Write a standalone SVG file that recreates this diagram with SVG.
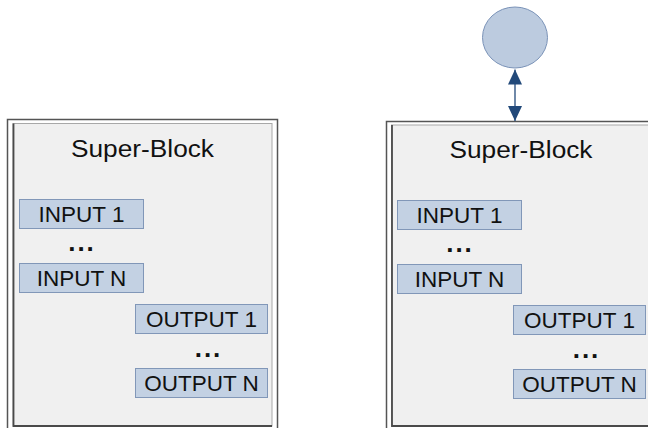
<svg xmlns="http://www.w3.org/2000/svg" width="648" height="428" viewBox="0 0 648 428">
  <style>
    .frame-outer { fill: #ffffff; stroke: #555555; stroke-width: 1.5; }
    .frame-inner { fill: #f0f0f0; stroke: #a8a8a8; stroke-width: 1; }
    .frame-shade { fill: none; stroke: #4a4a4a; stroke-width: 1.8; }
    .port { fill: #c3d1e3; stroke: #8197b8; stroke-width: 1; }
    .title { font-family: "Liberation Sans", Arial, sans-serif; font-size: 23px; fill: #111111; text-anchor: middle; }
    .label { font-family: "Liberation Sans", Arial, sans-serif; font-size: 22.5px; fill: #111111; text-anchor: middle; }
    .dots { font-family: "Liberation Sans", Arial, sans-serif; font-size: 26px; font-weight: bold; fill: #111111; text-anchor: middle; letter-spacing: 2px; }
    .link { stroke: #22497a; stroke-width: 1.3; fill: none; }
  </style>
  <defs>
    <marker id="head" viewBox="0 0 15 14" refX="15" refY="7" markerWidth="15" markerHeight="14" markerUnits="userSpaceOnUse" orient="auto-start-reverse">
      <path d="M0,0 L15,7 L0,14 Z" fill="#22497a"/>
    </marker>
    <g id="block-body">
      <rect class="frame-outer" x="7.5" y="119.5" width="270" height="320"/>
      <rect class="frame-inner" x="13" y="123.5" width="259" height="302.5"/>
      <path class="frame-shade" d="M13.5,123.5 V426 H272"/>
    </g>
  </defs>

  <!-- left super-block -->
  <g id="superblock-left">
    <use href="#block-body"/>
    <text class="title" x="142.5" y="157" textLength="143" lengthAdjust="spacingAndGlyphs">Super-Block</text>
  </g>
  <g id="left-input-1">
    <rect class="port" x="19.5" y="199.5" width="124" height="29"/>
    <text class="label" x="81.5" y="221.5">INPUT 1</text>
  </g>
  <text class="dots" x="82" y="251">...</text>
  <g id="left-input-n">
    <rect class="port" x="19.5" y="263.5" width="124" height="29"/>
    <text class="label" x="81.5" y="285.5">INPUT N</text>
  </g>
  <g id="left-output-1">
    <rect class="port" x="135.5" y="304.5" width="132" height="29"/>
    <text class="label" x="201.5" y="326.5">OUTPUT 1</text>
  </g>
  <text class="dots" x="208.5" y="357">...</text>
  <g id="left-output-n">
    <rect class="port" x="135.5" y="368.5" width="132" height="29"/>
    <text class="label" x="201.5" y="390.5">OUTPUT N</text>
  </g>

  <!-- right super-block with attached node -->
  <g id="superblock-right">
    <rect class="frame-outer" x="386.5" y="121.5" width="275" height="320"/>
    <rect class="frame-inner" x="391.5" y="125" width="262" height="301"/>
    <path class="frame-shade" d="M392,125 V426 H655"/>
    <text class="title" x="521" y="158" textLength="143" lengthAdjust="spacingAndGlyphs">Super-Block</text>
  </g>
  <g id="right-input-1">
    <rect class="port" x="397.5" y="200.5" width="124" height="29"/>
    <text class="label" x="459.5" y="222.5">INPUT 1</text>
  </g>
  <text class="dots" x="460" y="252">...</text>
  <g id="right-input-n">
    <rect class="port" x="397.5" y="264.5" width="124" height="29"/>
    <text class="label" x="459.5" y="286.5">INPUT N</text>
  </g>
  <g id="right-output-1">
    <rect class="port" x="513.5" y="305.5" width="132" height="29"/>
    <text class="label" x="579.5" y="327.5">OUTPUT 1</text>
  </g>
  <text class="dots" x="586.5" y="358">...</text>
  <g id="right-output-n">
    <rect class="port" x="513.5" y="369.5" width="132" height="29"/>
    <text class="label" x="579.5" y="391.5">OUTPUT N</text>
  </g>

  <g id="external-node">
    <ellipse cx="515" cy="37.5" rx="32.5" ry="30.5" fill="#bccbdf" stroke="#7b93b8" stroke-width="1"/>
  </g>

  <g id="connectors">
    <line class="link" x1="515" y1="69.5" x2="515" y2="121" marker-start="url(#head)" marker-end="url(#head)"/>
  </g>
</svg>
